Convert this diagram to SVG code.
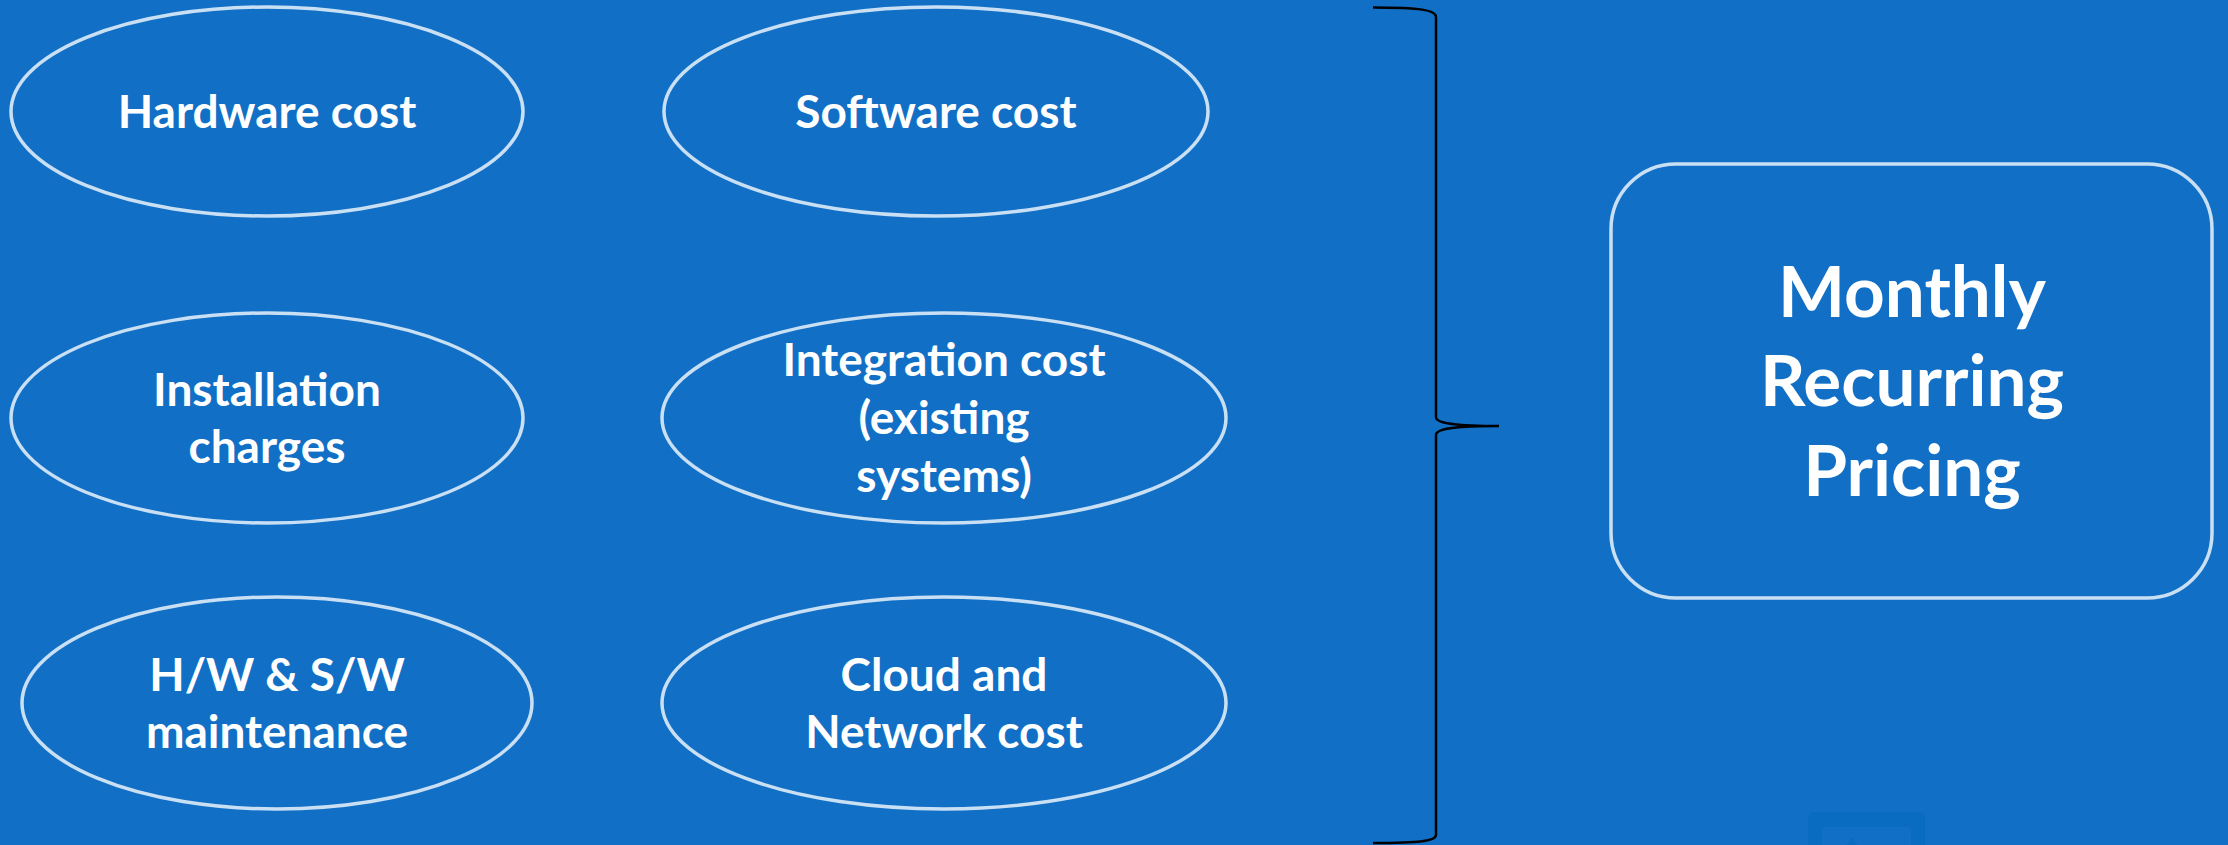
<svg xmlns="http://www.w3.org/2000/svg" width="2228" height="845" viewBox="0 0 2228 845">
  <style>
    .bg { fill: #1170C6; }
    .node ellipse, .node rect { fill: #1170C6; stroke: #C9DFF4; stroke-width: 3.5; }
    .lbl { font-family: Lato, "Open Sans", "Liberation Sans", sans-serif; font-weight: bold; fill: #FFFFFF; text-anchor: middle; }
    .small { font-size: 46px; }
    .big { font-size: 71px; }
    .brace { fill: none; stroke: #000000; stroke-width: 2.5; }
  </style>
  <rect class="bg" x="0" y="0" width="2228" height="845"/>

  <g id="watermark">
    <rect x="1808" y="812" width="117" height="60" rx="6" fill="#0A6CC0"/>
    <rect x="1822" y="827" width="89" height="40" rx="4" fill="#1170C6"/>
    <polygon points="1852,837 1843,850 1861,850" fill="#0A6CC0"/>
  </g>

  <g id="hardware" class="node">
    <ellipse cx="267" cy="111.5" rx="256" ry="104.5"/>
    <text class="lbl small" x="267" y="128">Hardware cost</text>
  </g>
  <g id="software" class="node">
    <ellipse cx="936" cy="111.5" rx="272" ry="104.5"/>
    <text class="lbl small" x="936" y="128">Software cost</text>
  </g>
  <g id="installation" class="node">
    <ellipse cx="267" cy="418" rx="256" ry="105"/>
    <text class="lbl small" x="267" y="406">Installation</text>
    <text class="lbl small" x="267" y="463">charges</text>
  </g>
  <g id="integration" class="node">
    <ellipse cx="944" cy="418" rx="282" ry="105"/>
    <text class="lbl small" x="944" y="376">Integration cost</text>
    <text class="lbl small" x="944" y="434">(existing</text>
    <text class="lbl small" x="944" y="492">systems)</text>
  </g>
  <g id="maintenance" class="node">
    <ellipse cx="277" cy="703" rx="255" ry="106"/>
    <text class="lbl small" x="277" y="691">H/W &amp; S/W</text>
    <text class="lbl small" x="277" y="748">maintenance</text>
  </g>
  <g id="cloud" class="node">
    <ellipse cx="944" cy="703" rx="282" ry="106"/>
    <text class="lbl small" x="944" y="691">Cloud and</text>
    <text class="lbl small" x="944" y="748">Network cost</text>
  </g>

  <g id="connectors">
    <path class="brace" d="M1373,7.5 C1420,7.5 1436,10 1436,17 L1436,417 C1436,423 1452,426 1499,426 C1452,426 1436,429 1436,435 L1436,835 C1436,841 1420,843 1373,843"/>
  </g>

  <g id="pricing" class="node">
    <rect x="1611" y="164" width="601" height="434" rx="65" ry="65"/>
    <text class="lbl big" x="1912" y="317">Monthly</text>
    <text class="lbl big" x="1912" y="406">Recurring</text>
    <text class="lbl big" x="1912" y="496">Pricing</text>
  </g>
</svg>
